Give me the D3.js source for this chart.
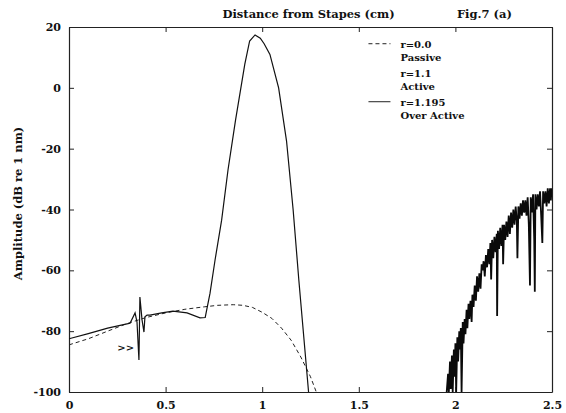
<!DOCTYPE html>
<html>
<head>
<meta charset="utf-8">
<script src="https://cdn.jsdelivr.net/npm/d3@7"></script>
<style>
  body { margin: 0; background: #fff; }
  text { font-family: "DejaVu Serif", serif; font-weight: bold; fill: #111; }
</style>
</head>
<body>
<div class="chart"></div>
<script>
// tick values
const xTicks = [0, 0.5, 1, 1.5, 2, 2.5];
const yTicks = [20, 0, -20, -40, -60, -80, -100];

// r=0.0 passive (dashed)
const passive = [
  [0, -84.5], [0.1, -82.5], [0.2, -80], [0.3, -77.5], [0.4, -75.5], [0.5, -74],
  [0.6, -72.8], [0.7, -72], [0.77, -71.5], [0.85, -71.3], [0.9, -71.5], [0.95, -72.2],
  [1.0, -73.8], [1.05, -75.8], [1.1, -79], [1.15, -83], [1.2, -88.5], [1.25, -95], [1.28, -100]
];

// r=1.1 active (solid, the big peak)
const active = [
  [0, -82.5], [0.1, -80.8], [0.2, -79], [0.3, -77.6], [0.316, -77.4], [0.342, -74],
  [0.352, -77], [0.362, -89.5], [0.367, -68.8], [0.378, -76.3], [0.388, -80.3],
  [0.393, -75.3], [0.404, -74.7], [0.419, -74.7], [0.48, -74], [0.538, -73.4],
  [0.611, -74], [0.678, -75.6], [0.705, -75.5], [0.73, -67.5], [0.756, -56.6],
  [0.79, -43.5], [0.823, -27], [0.862, -10.6], [0.91, 7.8], [0.935, 15.4],
  [0.963, 17.4], [0.99, 16.3], [1.01, 14.5], [1.04, 11], [1.085, 0], [1.126, -17.5],
  [1.16, -40], [1.19, -63.5], [1.24, -100]
];

// r=1.195 over active (solid, noisy tail)
const overActive = [
  [1.955,-100],[1.962,-94],[1.966,-100],[1.972,-90],[1.976,-99],[1.982,-88],[1.986,-100],
  [1.992,-86],[1.996,-95],[2.000,-84],[2.004,-100],[2.010,-82],[2.014,-90],[2.020,-80],
  [2.024,-86],[2.028,-79],[2.032,-100],[2.038,-77],[2.042,-84],[2.048,-76],[2.052,-81],
  [2.058,-73],[2.062,-79],[2.068,-71],[2.072,-76],[2.078,-70],[2.084,-77],[2.088,-68],
  [2.094,-72],[2.100,-65],[2.106,-70],[2.112,-62],[2.118,-67],[2.124,-61],[2.130,-66],
  [2.136,-58],[2.141,-60],[2.146,-57],[2.152,-62],[2.158,-55],[2.164,-59],[2.170,-53],
  [2.176,-58],[2.181,-51],[2.185,-63],[2.190,-50],[2.196,-56],[2.202,-49],[2.208,-54],
  [2.214,-48],[2.216,-75],[2.220,-47],[2.226,-53],[2.232,-46],[2.238,-52],[2.244,-45],
  [2.247,-58],[2.252,-45],[2.258,-50],[2.264,-44],[2.270,-49],[2.276,-42],[2.282,-48],
  [2.288,-41],[2.294,-46],[2.300,-40],[2.306,-45],[2.312,-39],[2.318,-44],[2.321,-56],
  [2.326,-39],[2.332,-43],[2.338,-38],[2.344,-42],[2.350,-37],[2.356,-41],[2.362,-37],
  [2.368,-42],[2.374,-36],[2.380,-45],[2.386,-65],[2.390,-36],[2.396,-41],[2.402,-35],
  [2.408,-50],[2.411,-67],[2.414,-35],[2.420,-40],[2.426,-35],[2.432,-39],[2.438,-34],
  [2.444,-42],[2.450,-51],[2.454,-34],[2.460,-38],[2.466,-34],[2.472,-39],[2.478,-33],
  [2.484,-38],[2.490,-33],[2.494,-37],[2.498,-33]
];

const legendItems = [
  {lines: ['r=0.0', 'Passive'], dash: '4,3'},
  {lines: ['r=1.1', 'Active'], dash: null},
  {lines: ['r=1.195', 'Over Active'], dash: ''}
];

const margin = {top: 27, right: 14, bottom: 21, left: 69};
const width = 566, height = 413;
const chartWidth = width - margin.left - margin.right;
const chartHeight = height - margin.top - margin.bottom;

const xScale = d3.scaleLinear().domain([0, 2.5]).range([0, chartWidth]);
const yScale = d3.scaleLinear().domain([-100, 20]).range([chartHeight, 0]);

const svg = d3.select('.chart')
  .append('svg')
  .attr('width', width)
  .attr('height', height)
  .append('g')
  .attr('transform', `translate(${margin.left}, ${margin.top})`);

svg.append('clipPath').attr('id', 'clip')
  .append('rect').attr('width', chartWidth).attr('height', chartHeight);

// axes: labels outside on left/bottom, inward ticks on all sides
const xAxis = d3.axisBottom(xScale).tickValues(xTicks).tickFormat(d3.format('~g'))
  .tickSizeInner(-5).tickSizeOuter(0).tickPadding(9);
const yAxis = d3.axisLeft(yScale).tickValues(yTicks).tickFormat(d => d < 0 ? '-' + (-d) : d)
  .tickSizeInner(-5).tickSizeOuter(0).tickPadding(8);

svg.append('g').attr('class', 'x axis')
  .attr('transform', `translate(0, ${chartHeight})`).call(xAxis);
svg.append('g').attr('class', 'y axis').call(yAxis);
svg.append('g').attr('transform', `translate(${chartWidth}, 0)`)
  .call(d3.axisRight(yScale).tickValues(yTicks).tickSizeInner(-5).tickSizeOuter(0).tickFormat(''));
svg.append('g')
  .call(d3.axisTop(xScale).tickValues(xTicks).tickSizeInner(-5).tickSizeOuter(0).tickFormat(''));

svg.selectAll('.domain').attr('stroke', '#222').attr('stroke-width', 1.2);
svg.selectAll('.tick line').attr('stroke', '#222');
svg.selectAll('.axis text').style('font-size', '11px').style('font-family', '"DejaVu Serif", serif')
  .style('font-weight', 'bold').attr('fill', '#111');

// curves
const line = d3.line().x(d => xScale(d[0])).y(d => yScale(d[1]));
const curves = svg.append('g').attr('clip-path', 'url(#clip)');

curves.append('path').datum(passive).attr('d', line)
  .attr('fill', 'none').attr('stroke', '#222').attr('stroke-width', 1)
  .attr('stroke-dasharray', '4,3');
curves.append('path').datum(active).attr('d', line)
  .attr('fill', 'none').attr('stroke', '#111').attr('stroke-width', 1.2);
curves.append('path').datum(overActive).attr('d', line)
  .attr('fill', 'none').attr('stroke', '#0a0a0a').attr('stroke-width', 1.8);

// '>>' marker
svg.append('text').attr('x', xScale(0.25)).attr('y', yScale(-86.5))
  .style('font-size', '10px').text('>>');

// titles
svg.append('text').attr('x', xScale(1.24)).attr('y', -9).attr('text-anchor', 'middle')
  .style('font-size', '11.5px').text('Distance from Stapes (cm)');
svg.append('text').attr('x', xScale(2.15)).attr('y', -9).attr('text-anchor', 'middle')
  .style('font-size', '11.5px').text('Fig.7 (a)');
svg.append('text')
  .attr('transform', `translate(${22 - margin.left}, ${yScale(-38)}) rotate(-90)`)
  .attr('text-anchor', 'middle').style('font-size', '11.5px')
  .text('Amplitude (dB re 1 nm)');

// legend
const legend = svg.append('g').attr('transform', `translate(${xScale(1.55)}, ${yScale(14.5)})`);
legendItems.forEach((item, i) => {
  const g = legend.append('g').attr('transform', `translate(0, ${i * 29})`);
  if (item.dash !== null) {
    g.append('line').attr('x1', 0).attr('x2', 22).attr('y1', 0).attr('y2', 0)
      .attr('stroke', '#222').attr('stroke-width', 1)
      .attr('stroke-dasharray', item.dash || null);
  }
  item.lines.forEach((t, j) => {
    g.append('text').attr('x', 32).attr('y', j * 13 + 4)
      .style('font-size', '10px').text(t);
  });
});
</script>
</body>
</html>
